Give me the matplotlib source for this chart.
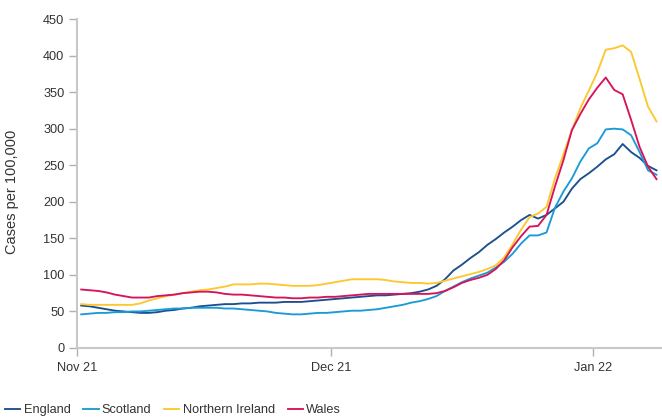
import pandas as pd
import matplotlib
matplotlib.use("Agg")
import matplotlib.pyplot as plt
import matplotlib.dates as mdates

plt.rcParams['font.family'] = ['Liberation Sans', 'DejaVu Sans']

# daily values, 7-day rolling rate, 1 Nov 2021 - 8 Jan 2022
dates = pd.date_range('2021-11-01 12:00', periods=69, freq='D')

england = [58, 57, 55, 53, 51, 50, 49, 48, 48, 49,
           51, 52, 54, 55, 57, 58, 59, 60, 60, 61,
           61, 62, 62, 62, 63, 63, 63, 64, 65, 66,
           67, 68, 69, 70, 71, 72, 72, 73, 74, 75,
           77, 80, 85, 94, 106, 114, 123, 131, 141, 149,
           158, 166, 175, 182, 177, 182, 191, 200, 218, 231,
           239, 248, 258, 265, 279, 268, 260, 249, 243]

scotland = [46, 47, 48, 48, 49, 49, 50, 50, 51, 52,
            53, 54, 54, 55, 55, 55, 55, 54, 54, 53,
            52, 51, 50, 48, 47, 46, 46, 47, 48, 48,
            49, 50, 51, 51, 52, 53, 55, 57, 59, 62,
            64, 67, 71, 78, 84, 90, 95, 99, 103, 110,
            118, 129, 143, 154, 154, 158, 192, 214, 232, 255,
            273, 280, 299, 300, 299, 291, 268, 243, 237]

n_ireland = [60, 59, 59, 59, 59, 59, 59, 61, 65, 68,
             71, 73, 75, 77, 79, 80, 82, 84, 87, 87,
             87, 88, 88, 87, 86, 85, 85, 85, 86, 88,
             90, 92, 94, 94, 94, 94, 93, 91, 90, 89,
             89, 88, 89, 92, 95, 98, 101, 104, 108, 113,
             124, 142, 162, 179, 184, 193, 232, 265, 298, 328,
             352, 377, 408, 410, 414, 405, 368, 330, 310]

wales = [80, 79, 78, 76, 73, 71, 69, 69, 69, 71,
         72, 73, 75, 76, 77, 77, 76, 74, 73, 73,
         72, 71, 70, 69, 69, 68, 68, 69, 69, 70,
         70, 71, 72, 73, 74, 74, 74, 74, 74, 74,
         74, 74, 75, 78, 83, 89, 93, 96, 100, 108,
         120, 138, 153, 166, 167, 182, 221, 257, 298, 320,
         340, 356, 370, 353, 347, 312, 275, 248, 231]

names = ['England', 'Scotland', 'Northern Ireland', 'Wales']
colours = ['#1c4f8f', '#1a9bd7', '#fcc82e', '#d6145b']
tick_dates = ['2021-11-01', '2021-12-01', '2022-01-01']
tick_labels = ['Nov 21', 'Dec 21', 'Jan 22']

fig = plt.figure(figsize=(6.62, 4.18), dpi=100)
ax = fig.add_axes([0.1163, 0.1675, 0.8837, 0.787])

for vals, name, col in zip([england, scotland, n_ireland, wales], names, colours):
    ax.plot(dates, vals, color=col, lw=1.35, label=name)

start = pd.Timestamp('2021-11-01')
ax.set_xlim(start, start + pd.Timedelta(days=69.15))
ax.set_ylim(0, 450)
ax.set_yticks(range(0, 451, 50))
ax.set_xticks([mdates.date2num(pd.Timestamp(d)) for d in tick_dates])
ax.set_xticklabels(tick_labels)

for s in ['top', 'right']:
    ax.spines[s].set_visible(False)
for s in ['left', 'bottom']:
    ax.spines[s].set_color('#c8c8c8')
    ax.spines[s].set_linewidth(1.5)

ax.tick_params(axis='both', colors='#b0b0b0', labelcolor='#333333',
               labelsize=9.2, length=6, width=1)
ax.tick_params(axis='x', pad=4)
ax.tick_params(axis='y', pad=3)

ax.set_ylabel('Cases per 100,000', fontsize=10.5, color='#333333')
ax.yaxis.set_label_coords(-0.099, 0.474)

fig.legend(loc='center left', bbox_to_anchor=(0.0076, 0.018), ncol=4,
           frameon=False, fontsize=9.2, handlelength=1.2, handletextpad=0.25,
           columnspacing=1.0, borderpad=0, borderaxespad=0,
           labelcolor='#333333')

fig.savefig('out.png', dpi=100)
